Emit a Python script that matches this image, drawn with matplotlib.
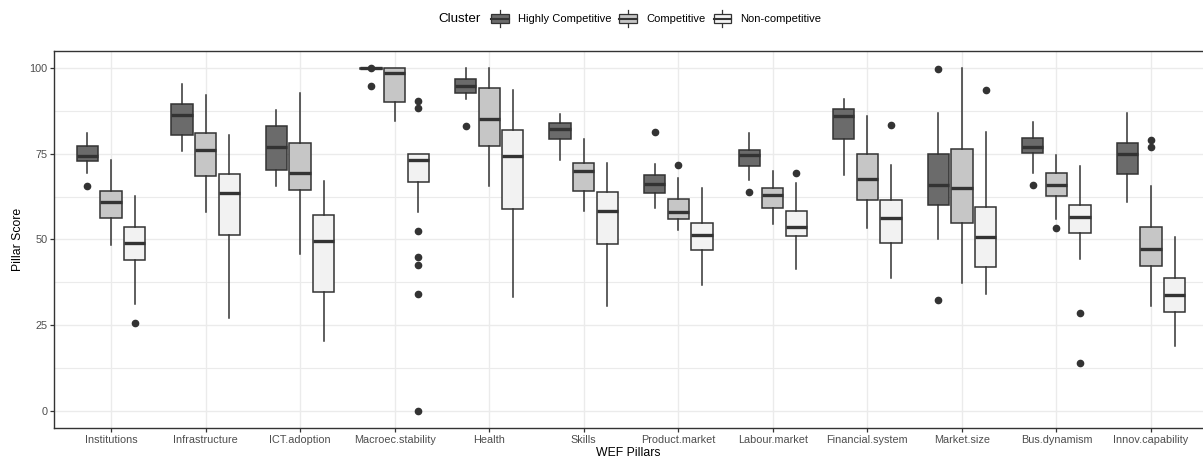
import matplotlib
matplotlib.use("Agg")
import matplotlib.pyplot as plt
from matplotlib.legend_handler import HandlerBase
from matplotlib.patches import Rectangle, Patch
from matplotlib.lines import Line2D

plt.rcParams['font.family'] = ['Liberation Sans', 'DejaVu Sans']

# valeurs
pillars = ['Institutions', 'Infrastructure', 'ICT.adoption', 'Macroec.stability', 'Health', 'Skills',
           'Product.market', 'Labour.market', 'Financial.system', 'Market.size', 'Bus.dynamism',
           'Innov.capability']
clusters = ['Highly Competitive', 'Competitive', 'Non-competitive']
fills = ['#6b6b6b', '#c6c6c6', '#f2f2f2']

# Highly Competitive
hc_lo = [69.5, 75.7, 65.7, 100.0, 90.9, 73.3, 59.1, 67.3, 68.9, 50.1, 69.4, 60.9]
hc_q1 = [72.8, 80.4, 70.2, 99.8, 92.6, 79.4, 63.5, 71.4, 79.4, 59.9, 75.1, 69.2]
hc_med = [74.2, 86.2, 77.0, 100.0, 94.7, 82.2, 66.3, 74.7, 86.0, 65.8, 76.9, 74.9]
hc_q3 = [77.4, 89.4, 83.2, 100.0, 96.9, 83.9, 68.9, 76.2, 88.0, 74.9, 79.5, 78.2]
hc_hi = [81.2, 95.4, 87.7, 100.0, 100.0, 86.7, 71.9, 81.2, 91.1, 86.9, 84.2, 86.9]
hc_out = [[65.6], [], [], [99.9, 94.8], [83.0], [], [81.3], [63.8], [], [99.6, 32.3], [65.8], []]

# Competitive
c_lo = [48.4, 57.9, 45.8, 84.7, 65.6, 58.3, 52.8, 54.4, 53.2, 37.2, 55.8, 30.4]
c_q1 = [56.3, 68.6, 64.5, 90.1, 77.4, 64.1, 56.0, 59.1, 61.4, 54.9, 62.8, 42.3]
c_med = [61.0, 76.1, 69.5, 98.7, 85.1, 70.0, 58.1, 63.0, 67.7, 64.9, 65.9, 47.1]
c_q3 = [64.0, 81.2, 78.2, 100.0, 94.2, 72.2, 61.9, 65.0, 75.0, 76.3, 69.3, 53.7]
c_hi = [73.2, 92.1, 92.8, 100.0, 100.0, 79.3, 68.0, 70.1, 85.9, 100.0, 74.6, 65.5]
c_out = [[], [], [], [], [], [], [71.8], [], [], [], [53.2], [79.1, 77.1]]

# Non-competitive
nc_lo = [31.0, 27.0, 20.2, 57.9, 33.2, 30.4, 36.6, 41.4, 38.8, 33.9, 44.4, 19.0]
nc_q1 = [44.0, 51.4, 34.6, 66.7, 59.0, 48.6, 46.9, 50.9, 48.9, 41.8, 52.0, 28.9]
nc_med = [48.9, 63.4, 49.5, 73.2, 74.2, 58.2, 51.4, 53.6, 56.2, 50.6, 56.5, 33.7]
nc_q3 = [53.7, 69.2, 57.1, 75.0, 82.0, 63.7, 54.7, 58.4, 61.4, 59.4, 60.0, 38.7]
nc_hi = [62.8, 80.6, 67.1, 75.0, 93.6, 72.2, 65.0, 66.4, 71.6, 81.3, 71.5, 50.8]
nc_out = [[25.7], [], [], [90.3, 88.5, 52.3, 44.8, 42.4, 33.9, 0.0], [], [], [], [69.4], [83.3],
          [93.7], [28.5, 14.0], []]

series = [
    (hc_lo, hc_q1, hc_med, hc_q3, hc_hi, hc_out),
    (c_lo, c_q1, c_med, c_q3, c_hi, c_out),
    (nc_lo, nc_q1, nc_med, nc_q3, nc_hi, nc_out),
]

W, H = 1203, 459
fig = plt.figure(figsize=(W / 100, H / 100), dpi=100)
ax = fig.add_axes([54.3 / W, (H - 427.7) / H, (W - 54.3) / W, (427.7 - 51) / H])

edge = '#333333'
offsets = [-0.25, 0, 0.25]
for k, (lo, q1, med, q3, hi, out) in enumerate(series):
    stats = []
    for i in range(len(pillars)):
        stats.append({'whislo': lo[i], 'q1': q1[i], 'med': med[i], 'q3': q3[i],
                      'whishi': hi[i], 'fliers': out[i]})
    pos = [i + 1 + offsets[k] for i in range(len(pillars))]
    ax.bxp(stats, positions=pos, widths=0.225, patch_artist=True, showcaps=False,
           boxprops=dict(facecolor=fills[k], edgecolor=edge, linewidth=1.1),
           whiskerprops=dict(color=edge, linewidth=1.1),
           medianprops=dict(color=edge, linewidth=2.4),
           flierprops=dict(marker='o', markerfacecolor=edge, markeredgecolor=edge, markersize=4.5),
           zorder=3)

ax.set_xlim(0.4, 12.55)
ax.set_ylim(-5, 105)
ax.set_xticks(range(1, len(pillars) + 1))
ax.set_xticklabels(pillars)
ax.set_yticks([0, 25, 50, 75, 100])
ax.set_yticks([12.5, 37.5, 62.5, 87.5], minor=True)
ax.grid(True, which='major', color='#ebebeb', linewidth=1.0, zorder=0)
ax.grid(True, which='minor', axis='y', color='#ebebeb', linewidth=0.8, zorder=0)
ax.set_axisbelow(True)
ax.tick_params(axis='both', which='major', length=3, width=0.9, color='#333333',
               labelsize=7.8, labelcolor='#4d4d4d', pad=2)
ax.tick_params(axis='y', which='minor', length=0)
for s in ['left', 'bottom', 'top']:
    ax.spines[s].set_color('#333333')
    ax.spines[s].set_linewidth(1.0)
ax.spines['right'].set_visible(False)

ax.set_xlabel('WEF Pillars', fontsize=8.8, labelpad=1.5)
ax.set_ylabel('Pillar Score', fontsize=8.8, labelpad=4)


# legende avec des petites boites
class BoxHandler(HandlerBase):
    def create_artists(self, legend, orig_handle, xdescent, ydescent, width, height, fontsize, trans):
        x0, y0 = -xdescent, -ydescent
        fc = orig_handle.get_facecolor()
        cx = x0 + width / 2
        arts = [
            Line2D([cx, cx], [y0, y0 + 0.24 * height], color=edge, lw=0.9),
            Line2D([cx, cx], [y0 + 0.76 * height, y0 + height], color=edge, lw=0.9),
            Rectangle((x0, y0 + 0.24 * height), width, 0.52 * height,
                      facecolor=fc, edgecolor=edge, lw=0.9),
            Line2D([x0, x0 + width], [y0 + 0.5 * height] * 2, color=edge, lw=1.5),
        ]
        for a in arts:
            a.set_transform(trans)
        return arts


handles = [Patch(facecolor=f) for f in fills]
fig.text(438 / W, 1 - 18.5 / H, 'Cluster', fontsize=9.6, va='center', ha='left')
fig.legend(handles, clusters, loc='center left', bbox_to_anchor=(491 / W, 1 - 18.5 / H),
           ncol=3, frameon=False, fontsize=8, handler_map={Patch: BoxHandler()},
           handlelength=1.59, handleheight=2.1, handletextpad=0.8, columnspacing=0.75,
           borderpad=0, borderaxespad=0)

fig.savefig('out.png', dpi=100)
